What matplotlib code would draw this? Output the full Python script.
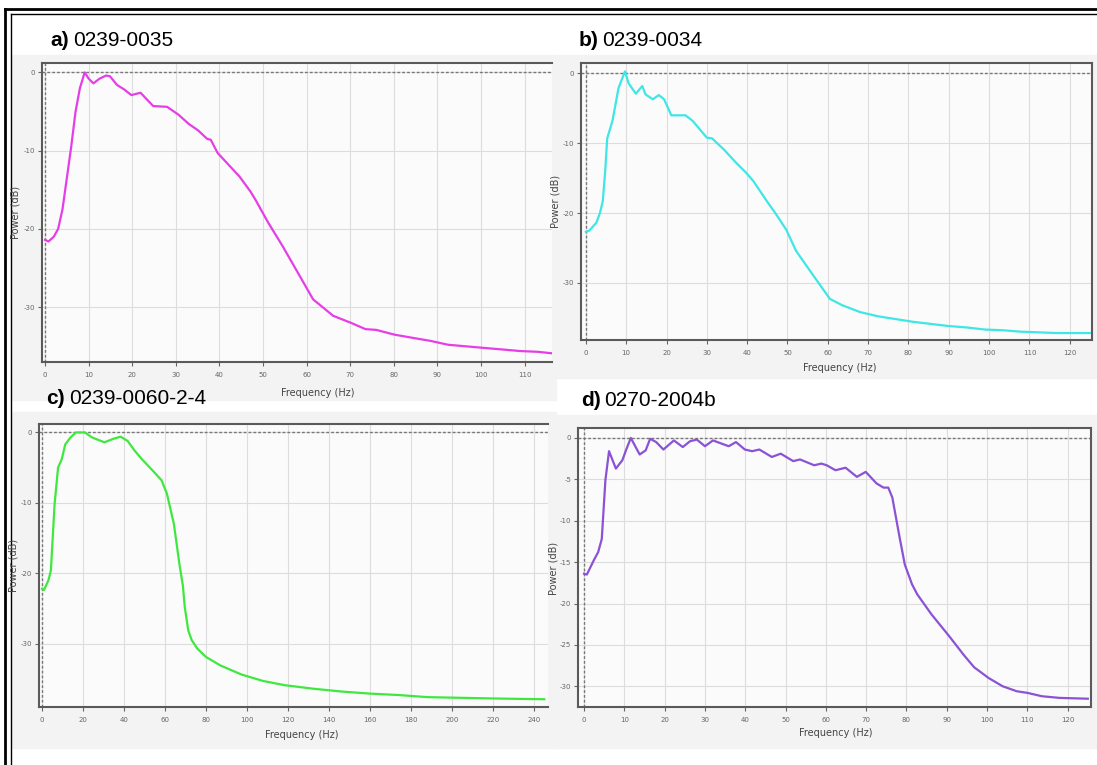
import matplotlib
matplotlib.use("Agg")
import matplotlib.pyplot as plt
from matplotlib import font_manager
from matplotlib.patches import Rectangle
from matplotlib.lines import Line2D

plt.rcParams['axes.unicode_minus'] = False

# ---- data ----
a_freq = [0, 0.8, 2, 3, 4, 5, 6, 7, 8, 9.1, 10, 11.1, 12.5, 14, 14.9, 16.5, 18.2, 19.8,
          21.9, 23.1, 24.8, 28, 30.6, 33, 35.1, 37.2, 38, 39.6, 42.1, 44.6, 47.1, 48.3,
          51.2, 54.5, 57.8, 61.5, 66.1, 70.2, 73.5, 76, 80.1, 84.2, 88.4, 92.5, 96.6,
          100.7, 104.9, 109, 113.1, 116.5]
a_power = [-21.4, -21.6, -21.0, -20.0, -17.5, -13.5, -9.5, -5.0, -2.0, 0, -0.8, -1.4,
           -0.8, -0.4, -0.5, -1.6, -2.2, -2.9, -2.6, -3.3, -4.3, -4.4, -5.4, -6.6, -7.4,
           -8.5, -8.6, -10.3, -11.8, -13.3, -15.2, -16.3, -19.2, -22.2, -25.4, -29.0,
           -31.1, -32.0, -32.8, -32.9, -33.5, -33.9, -34.3, -34.8, -35.0, -35.2, -35.4,
           -35.6, -35.7, -35.9]

b_freq = [0, 0.9, 2.6, 3.5, 4.2, 4.8, 5.3, 6.6, 8.1, 9.7, 10.6, 12.4, 14, 14.8, 16.6,
          18.1, 19.4, 21.2, 24.7, 26.5, 30, 31.3, 34.4, 37.1, 39.7, 41.5, 45, 47.2, 49.7,
          52.1, 55.6, 60.5, 63.5, 68, 72.4, 76.8, 81.2, 85.6, 90, 94.4, 98.9, 103.3,
          107.7, 112.1, 116.5, 125]
b_power = [-22.7, -22.5, -21.4, -20.0, -18.3, -14.0, -9.3, -6.8, -2.1, 0.3, -1.4, -2.9,
           -1.8, -3.0, -3.7, -3.1, -3.7, -6.0, -6.0, -6.8, -9.2, -9.3, -11.0, -12.7,
           -14.2, -15.4, -18.4, -20.2, -22.4, -25.4, -28.3, -32.3, -33.2, -34.2, -34.8,
           -35.2, -35.6, -35.9, -36.2, -36.4, -36.7, -36.8, -37.0, -37.1, -37.2, -37.2]

c_freq = [0, 0.9, 3.1, 4.3, 6.1, 7.8, 9.6, 11.3, 13.9, 16.5, 20.9, 24.3, 30.4, 34.8,
          38.3, 41.7, 45.2, 48.7, 53.9, 58.3, 60.9, 64.3, 67, 68.7, 69.6, 71.3, 73, 75.7,
          80, 87, 97.4, 107.8, 118.3, 132.2, 146, 160, 174, 188, 205, 222.6, 245]
c_power = [-22.2, -22.4, -21.0, -19.6, -10.2, -5.0, -3.8, -1.7, -0.7, 0, 0, -0.7, -1.4,
           -0.9, -0.6, -1.2, -2.6, -3.8, -5.4, -6.8, -8.7, -13.0, -18.7, -21.8, -24.8,
           -28.1, -29.5, -30.7, -31.9, -33.1, -34.4, -35.3, -35.9, -36.4, -36.8, -37.1,
           -37.3, -37.6, -37.7, -37.8, -37.9]

d_freq = [0, 0.7, 2.5, 3.5, 4.4, 5.3, 6.2, 7.9, 9.5, 10.4, 11.6, 13.8, 15.3, 16.4, 17.9,
          19.7, 22.3, 24.5, 26.3, 28, 30, 32, 34.2, 35.9, 37.7, 39.9, 41.7, 43.5, 46.6,
          48.8, 51.9, 53.6, 57.1, 58.9, 60.2, 62.4, 64.9, 67.7, 69.9, 72.6, 74.3, 75.5,
          76.5, 77.4, 78.3, 79.6, 81.4, 82.7, 86.2, 90.7, 94.2, 96.8, 100.4, 103.9,
          107.4, 110.1, 113.6, 118, 125]
d_power = [-16.4, -16.5, -14.7, -13.8, -12.2, -5.1, -1.6, -3.7, -2.7, -1.5, 0, -2.0,
           -1.5, -0.1, -0.5, -1.4, -0.3, -1.1, -0.4, -0.2, -1.0, -0.3, -0.7, -1.0, -0.5,
           -1.4, -1.6, -1.4, -2.3, -1.9, -2.8, -2.6, -3.3, -3.1, -3.3, -3.9, -3.6, -4.7,
           -4.1, -5.5, -6.0, -6.0, -7.2, -9.6, -12.0, -15.3, -17.7, -18.9, -21.3, -24.0,
           -26.2, -27.7, -29.0, -30.0, -30.6, -30.8, -31.2, -31.4, -31.5]

labels = ["a)", "b)", "c)", "d)"]
names = ["0239-0035", "0239-0034", "0239-0060-2-4", "0270-2004b"]
colors = ["#e63ee6", "#3fe6e6", "#3fe83f", "#8b52d6"]
x_ticks = [range(0, 111, 10), range(0, 121, 10), range(0, 241, 20), range(0, 121, 10)]
y_ticks = [[0, -10, -20, -30], [0, -10, -20, -30], [0, -10, -20, -30],
           [0, -5, -10, -15, -20, -25, -30]]

W, H = 1097, 765

# pick a narrow font for the panel titles if there is one
avail = {f.name for f in font_manager.fontManager.ttflist}
title_font = "Liberation Sans Narrow" if "Liberation Sans Narrow" in avail else "Liberation Sans"

fig = plt.figure(figsize=(W / 100, H / 100), dpi=100)
fig.patch.set_facecolor("white")


def fx(px):
    return px / W


def fy(py):
    return 1 - py / H


def box(x0, y0, x1, y1):
    return [fx(x0), fy(y1), fx(x1) - fx(x0), fy(y0) - fy(y1)]


# grey panel backgrounds
for (x0, y0, x1, y1) in [(12, 55, 556, 400), (556, 55, 1097, 378),
                         (12, 412, 556, 748), (556, 415, 1097, 748)]:
    fig.patches.append(Rectangle((fx(x0), fy(y1)), fx(x1) - fx(x0), fy(y0) - fy(y1),
                                 transform=fig.transFigure, color="#f3f3f3", zorder=-5))

# double frame at top and left
fig.add_artist(Line2D([fx(5), 1], [fy(9), fy(9)], color="black", lw=2))
fig.add_artist(Line2D([fx(11), 1], [fy(14), fy(14)], color="black", lw=1))
fig.add_artist(Line2D([fx(5), fx(5)], [fy(9), 0], color="black", lw=2))
fig.add_artist(Line2D([fx(11), fx(11)], [fy(14), 0], color="black", lw=1))

panels = [
    dict(f=a_freq, p=a_power, ax=(42, 63, 552, 362), xl=(-0.7, 116.3), yl=(-37, 1.2),
         title=(50, 40), xlab=(318, 393), ylab=(15, 212), right=False),
    dict(f=b_freq, p=b_power, ax=(581, 63, 1092, 340), xl=(-1.2, 125.5), yl=(-38.2, 1.5),
         title=(579, 40), xlab=(840, 368), ylab=(556, 201), right=True),
    dict(f=c_freq, p=c_power, ax=(39, 424, 548, 707), xl=(-1.5, 246.8), yl=(-39, 1.2),
         title=(46, 398), xlab=(302, 735), ylab=(13, 565), right=False),
    dict(f=d_freq, p=d_power, ax=(578, 428, 1091, 707), xl=(-1.5, 125.8), yl=(-32.5, 1.2),
         title=(581, 400), xlab=(836, 733), ylab=(553, 568), right=True),
]

for i, pn in enumerate(panels):
    ax = fig.add_axes(box(*pn["ax"]))
    ax.set_facecolor("#fbfbfb")
    ax.plot(pn["f"], pn["p"], color=colors[i], lw=1.6, zorder=3)
    ax.axhline(0, color="#777777", lw=1, ls=(0, (2, 1.5)), zorder=2)
    ax.axvline(0, color="#777777", lw=1, ls=(0, (2, 1.5)), zorder=2)
    ax.set_xlim(*pn["xl"])
    ax.set_ylim(*pn["yl"])
    ax.set_xticks(list(x_ticks[i]))
    ax.set_yticks(y_ticks[i])
    ax.grid(True, color="#dddddd", lw=0.8)
    ax.set_axisbelow(True)
    ax.tick_params(labelsize=5, colors="#666666", length=3, width=0.8, pad=4)
    ax.tick_params(axis="y", pad=2)
    for side in ["left", "bottom", "top", "right"]:
        ax.spines[side].set_color("#5a5a5a")
        ax.spines[side].set_linewidth(1.5)
    ax.spines["right"].set_visible(pn["right"])

    tx, ty = pn["title"]
    fig.text(fx(tx), fy(ty), labels[i], fontsize=15, fontweight="bold",
             family=title_font, va="center", ha="left")
    fig.text(fx(tx + 23), fy(ty), names[i], fontsize=15, family=title_font,
             va="center", ha="left")
    fig.text(fx(pn["xlab"][0]), fy(pn["xlab"][1]), "Frequency (Hz)", fontsize=7,
             color="#444444", ha="center", va="center")
    fig.text(fx(pn["ylab"][0]), fy(pn["ylab"][1]), "Power (dB)", fontsize=7,
             color="#444444", ha="center", va="center", rotation=90)

fig.savefig("out.png", dpi=100)
